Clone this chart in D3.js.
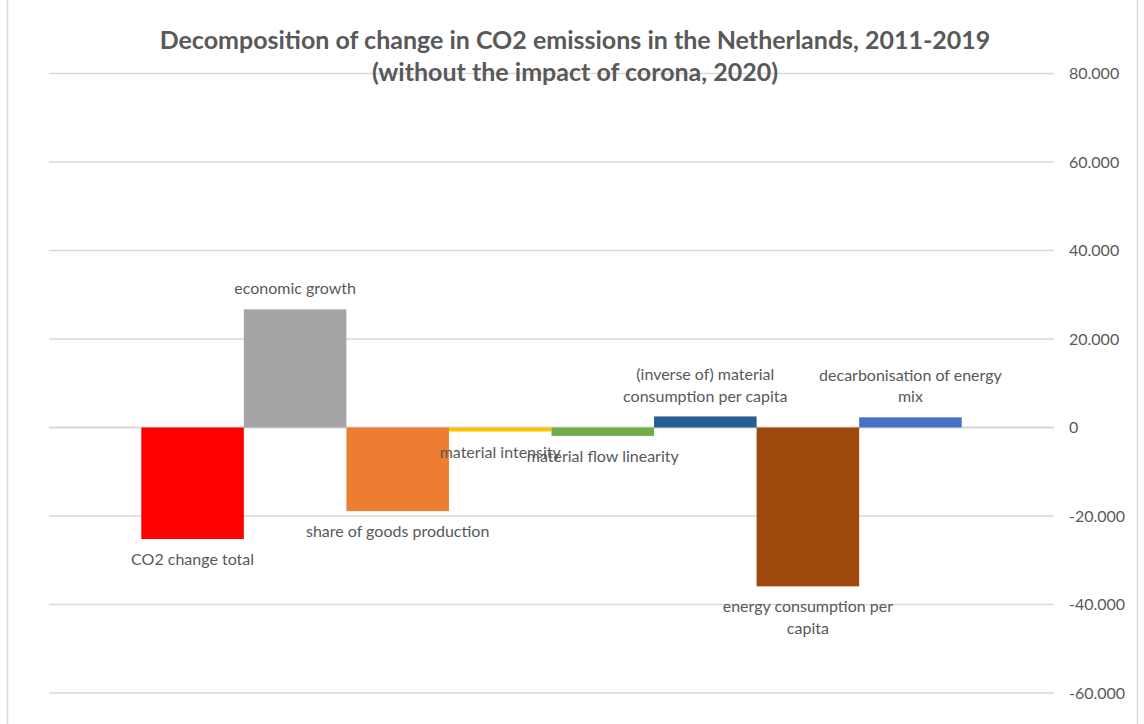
<!DOCTYPE html>
<html>
<head>
<meta charset="utf-8">
<script src="https://cdn.jsdelivr.net/npm/d3@7"></script>
<style>
  html, body { margin: 0; padding: 0; background: #fff; }
  svg { display: block; }
</style>
</head>
<body>
<svg id="chart" width="1144" height="724"></svg>
<script>
// Decomposition factors (kton CO2, change 2011-2019)
const categories = [
  "CO2 change total",
  "economic growth",
  "share of goods production",
  "material intensity",
  "material flow linearity",
  "(inverse of) material consumption per capita",
  "energy consumption per capita",
  "decarbonisation of energy mix"
];
const values = [-25.2, 26.7, -18.9, -0.9, -1.9, 2.5, -35.9, 2.3];
const barColors = ["#FF0000", "#A5A5A5", "#ED7D31", "#FFC000", "#70AD47", "#255E91", "#9E480E", "#4472C4"];
// Wrapped label lines as shown beside each bar
const labelLines = [
  ["CO2 change total"],
  ["economic growth"],
  ["share of goods production"],
  ["material intensity"],
  ["material flow linearity"],
  ["(inverse of) material", "consumption per capita"],
  ["energy consumption per", "capita"],
  ["decarbonisation of energy", "mix"]
];
const tickValues = [-60, -40, -20, 0, 20, 40, 60, 80];
const titleLines = [
  "Decomposition of change in CO2 emissions in the Netherlands, 2011-2019",
  "(without the impact of corona, 2020)"
];

const svg = d3.select("#chart");
const font = "Lato, 'Open Sans', sans-serif";
const textColor = "#595959";

// chart frame
svg.append("rect")
  .attr("x", 7.5).attr("y", -2)
  .attr("width", 1130).attr("height", 740)
  .attr("fill", "#fff").attr("stroke", "#d9d9d9").attr("stroke-width", 1.5);

const x = d3.scaleBand()
  .domain(categories)
  .range([49, 1054])
  .paddingInner(0)
  .paddingOuter(0.9);

const y = d3.scaleLinear().domain([-60, 80]).range([693, 73.5]);

// tick labels in Dutch thousands notation (e.g. 80.000)
const fmt = d => d === 0 ? "0" : (d < 0 ? "-" : "") + Math.abs(d) + ".000";

// horizontal gridlines
svg.append("g")
  .selectAll("line")
  .data(tickValues)
  .join("line")
  .attr("x1", 49).attr("x2", 1054)
  .attr("y1", d => y(d)).attr("y2", d => y(d))
  .attr("stroke", "#d9d9d9")
  .attr("stroke-width", d => d === 0 ? 2 : 1.5);

// value axis on the right
const gAxis = svg.append("g")
  .attr("transform", "translate(1069,0)")
  .call(d3.axisRight(y).tickValues(tickValues).tickSize(0).tickPadding(0).tickFormat(fmt));
gAxis.select(".domain").remove();
gAxis.selectAll("text")
  .attr("fill", textColor)
  .style("font-family", font)
  .style("font-size", "16px");

// bars
svg.append("g")
  .selectAll("rect")
  .data(categories)
  .join("rect")
  .attr("x", d => x(d))
  .attr("width", x.bandwidth())
  .attr("y", (d, i) => y(Math.max(0, values[i])))
  .attr("height", (d, i) => Math.abs(y(values[i]) - y(0)))
  .attr("fill", (d, i) => barColors[i]);

// data labels: outside end of each bar
const lineH = 21.5;
const gap = 20.5;
const lbl = svg.append("g")
  .style("font-family", font)
  .style("font-size", "16px")
  .attr("fill", textColor)
  .attr("text-anchor", "middle");

categories.forEach((c, i) => {
  const v = values[i];
  const lines = labelLines[i];
  const cx = x(c) + x.bandwidth() / 2;
  const end = y(v);
  lines.forEach((t, k) => {
    const cy = v >= 0
      ? end - gap - (lines.length - 1 - k) * lineH
      : end + gap + k * lineH;
    lbl.append("text")
      .attr("x", cx)
      .attr("y", cy)
      .attr("dy", "0.35em")
      .text(t);
  });
});

// title
svg.append("g")
  .selectAll("text")
  .data(titleLines)
  .join("text")
  .attr("x", 575)
  .attr("y", (d, i) => 40 + i * 32)
  .attr("dy", "0.35em")
  .attr("text-anchor", "middle")
  .attr("fill", textColor)
  .style("font-family", font)
  .style("font-weight", "bold")
  .style("font-size", "25px")
  .text(d => d);
</script>
</body>
</html>
